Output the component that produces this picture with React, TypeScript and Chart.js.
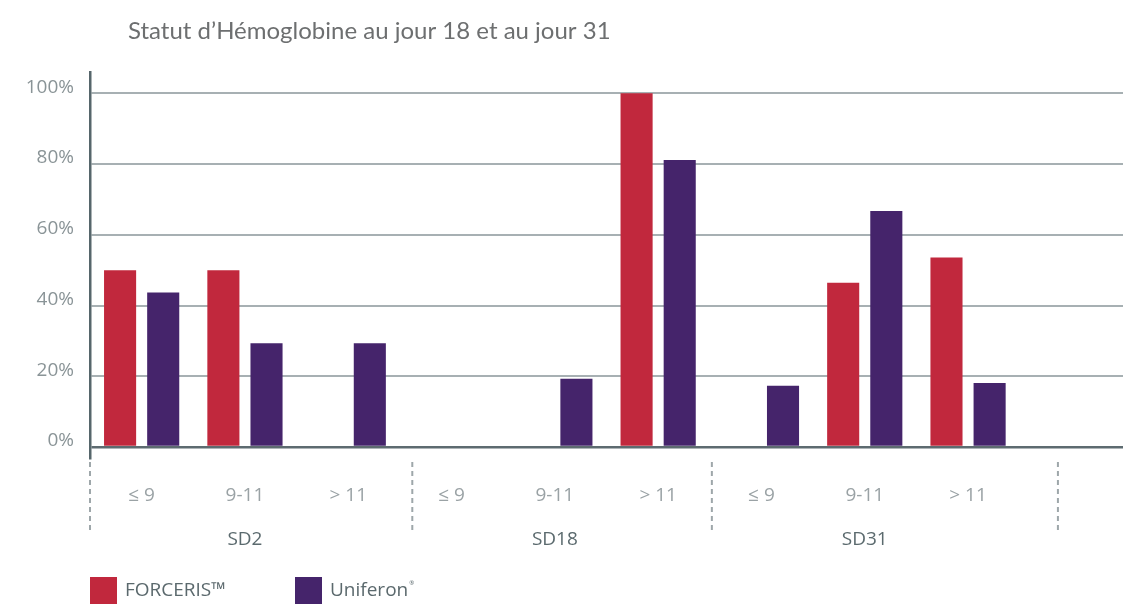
import React, { useEffect, useRef } from "react";
import { Chart, registerables } from "chart.js";

Chart.register(...registerables);

const titleText = "Statut d’Hémoglobine au jour 18 et au jour 31";
const categories = ["≤ 9", "9-11", "> 11", "≤ 9", "9-11", "> 11", "≤ 9", "9-11", "> 11", ""];
const groupLabels = ["", "SD2", "", "", "SD18", "", "", "SD31", "", ""];
const seriesNames = ["FORCERIS™", "Uniferon"];
const seriesMarks = ["", "®"];
const forceris = [50, 50, 0, 0, 0, 100, 0, 46.4, 53.6, null];
const uniferon = [43.7, 29.3, 29.3, 0, 19.3, 81.1, 17.3, 66.7, 18.1, null];
const yTicks = [0, 20, 40, 60, 80, 100];
const separatorsAt = [-0.5, 2.62, 5.52, 8.87];

const RED = "#c1283d";
const PURPLE = "#45246b";
const FONT = "'Open Sans', sans-serif";

const decoPlugin = {
  id: "deco",
  afterDraw(chart: any) {
    const ctx = chart.ctx;
    const area = chart.chartArea;
    const x = chart.scales.x;
    ctx.save();
    // title
    ctx.font = "24px Lato, sans-serif";
    ctx.fillStyle = "#6d6f70";
    ctx.textAlign = "left";
    ctx.textBaseline = "alphabetic";
    ctx.fillText(titleText, 128, 39);

    // separators
    const p0 = x.getPixelForValue(0);
    const step = x.getPixelForValue(1) - p0;
    ctx.strokeStyle = "#9ea7aa";
    ctx.lineWidth = 2;
    ctx.setLineDash([5, 4]);
    separatorsAt.forEach((v) => {
      const px = p0 + v * step;
      ctx.beginPath();
      ctx.moveTo(px, area.bottom + 4);
      ctx.lineTo(px, area.bottom + 72);
      ctx.stroke();
    });
    ctx.setLineDash([]);

    // legend
    const colors = [RED, PURPLE];
    let lx = area.left;
    const ly = 577;
    ctx.textBaseline = "middle";
    seriesNames.forEach((name, i) => {
      ctx.fillStyle = colors[i];
      ctx.fillRect(lx, ly, 27, 27);
      ctx.fillStyle = "#5b696d";
      ctx.font = "19px " + FONT;
      const tx = lx + 35;
      ctx.fillText(name, tx, ly + 14);
      const w = ctx.measureText(name).width;
      if (seriesMarks[i]) {
        ctx.font = "6px " + FONT;
        ctx.fillText(seriesMarks[i], tx + w + 1, ly + 6);
      }
      lx += 205;
    });
    ctx.restore();
  },
};

export default function App() {
  const ref = useRef<HTMLCanvasElement>(null);
  useEffect(() => {
    if (!ref.current) return;
    const chart = new Chart(ref.current, {
      type: "bar",
      data: {
        labels: categories,
        datasets: [
          { label: seriesNames[0], data: forceris, backgroundColor: RED, borderWidth: 0 },
          { label: seriesNames[1], data: uniferon, backgroundColor: PURPLE, borderWidth: 0 },
        ],
      },
      options: {
        animation: false,
        responsive: false,
        maintainAspectRatio: false,
        layout: { padding: { left: 9, right: 6, top: 72, bottom: 58 } },
        datasets: { bar: { categoryPercentage: 0.835, barPercentage: 0.744 } },
        plugins: {
          legend: { display: false },
          title: { display: false },
          tooltip: { enabled: false },
        },
        scales: {
          x: {
            type: "category",
            offset: true,
            grid: { display: false, drawTicks: false, tickLength: 0 },
            border: { display: false },
            afterFit: (s: any) => {
              s.height = 48;
            },
            ticks: {
              color: "#9aa2a5",
              font: { family: FONT, size: 19 },
              padding: 26,
              autoSkip: false,
              maxRotation: 0,
            },
          },
          x2: {
            type: "category",
            position: "bottom",
            labels: groupLabels,
            offset: true,
            grid: { display: false, drawTicks: false, tickLength: 0 },
            border: { display: false },
            afterFit: (s: any) => {
              s.height = 45;
            },
            ticks: {
              color: "#5b6a6e",
              font: { family: FONT, size: 19 },
              padding: 22,
              autoSkip: false,
              maxRotation: 0,
            },
          },
          y: {
            min: -3.1,
            max: 106,
            afterBuildTicks: (s: any) => {
              s.ticks = yTicks.map((v) => ({ value: v }));
            },
            afterFit: (s: any) => {
              s.width = 81;
            },
            border: { display: true, color: "#56666b", width: 2.5 },
            grid: {
              drawTicks: false,
              color: (c: any) => (c.tick && c.tick.value === 0 ? "#5d6b70" : "#a7b0b3"),
              lineWidth: (c: any) => (c.tick && c.tick.value === 0 ? 2.5 : 2),
            },
            ticks: {
              color: "#8a9497",
              font: { family: FONT, size: 19 },
              padding: 16,
              labelOffset: -6,
              callback: (v: any) => v + "%",
            },
          },
        },
      },
      plugins: [decoPlugin],
    });
    return () => chart.destroy();
  }, []);
  return (
    <div style={{ position: "absolute", left: 0, top: 0, width: 1129, height: 609, background: "#fff" }}>
      <canvas ref={ref} width={1129} height={609} style={{ display: "block" }} />
    </div>
  );
}
